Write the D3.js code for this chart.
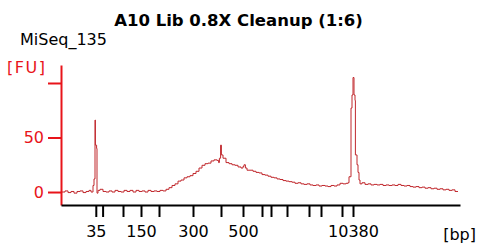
<!DOCTYPE html>
<html>
  <head>
    <meta charset="utf-8">
    <script src="https://d3js.org/d3.v7.min.js"></script>
    <style>
      body { margin: 0; background: #fff; }
      svg { display: block; font-family: 'DejaVu Sans', Verdana, sans-serif; }
    </style>
  </head>
  <body>
    <svg></svg>
    <script type="text/javascript">
      // ladder sizes (bp) and their migration times (s)
      const ladderBp = [35, 50, 100, 150, 200, 300, 400, 500, 600, 700, 1000, 2000, 3000, 7000, 10380]
      const ladderTime = [43.7, 45.4, 50.5, 55, 59.5, 68, 75, 80.5, 85.25, 87.5, 91.5, 97, 100, 105.25, 108]
      const labelledBp = [35, 150, 300, 500, 10380]
      const fuTicks = [0, 50, 100]
      const fuLabels = [0, 50]

      // electropherogram trace: time (s) and fluorescence (FU)
      const traceTime = [
        35.25, 36, 36.75, 37.5, 38.25, 39, 39.75, 40.5, 41.25, 42, 42.5, 43, 43.25, 43.5, 43.6, 43.9,
        44, 44.25, 44.75, 45.5, 46.25, 47, 47.75, 48.5, 49.25, 50, 50.75, 51.5, 52.25, 53, 53.75,
        54.5, 55.25, 56, 56.75, 57.5, 58.25, 59, 59.75, 60.5, 61.25, 62, 62.75, 63.5, 64.25, 65,
        65.75, 66.5, 67.25, 68, 68.75, 69.5, 70.25, 71, 71.75, 72.5, 73.25, 74, 74.4, 74.6, 74.9,
        75.1, 75.5, 76.25, 77, 77.75, 78.5, 79.25, 80, 80.5, 80.75, 81.1, 81.5, 82.25, 83, 83.75,
        84.5, 85.25, 86, 86.75, 87.5, 88.25, 89, 89.75, 90.5, 91.25, 92, 92.75, 93.5, 94.25, 95,
        95.75, 96.5, 97.25, 98, 98.75, 99.5, 100.25, 101, 101.75, 102.5, 103.25, 104, 104.75,
        105.5, 106.25, 106.75, 107, 107.25, 107.5, 107.75, 108, 108.25, 108.5, 108.6, 109, 109.25,
        109.5, 109.75, 110.25, 111, 111.75, 112.5, 113.25, 114, 114.75, 115.5, 116.25, 117,
        117.75, 118.5, 119.25, 120, 120.75, 121.5, 122.25, 123, 123.75, 124.5, 125.25, 126,
        126.75, 127.5, 128.25, 129, 129.75, 130.5, 131.25, 132, 132.75, 133.5, 134.25
      ]
      const traceFU = [
        0, 1, -0.5, 0.5, -1, 0.5, 1, -0.5, 0.5, 1.5, 0, 6, 12, 66, 43, 40,
        -1, 1.5, 2.5, 0.5, 0, 1, 0, 1.5, 0.5, 0, 1.5, 0.5, 1.5, 0, 1.5,
        0.5, 1, 0, 1.5, 0.5, 1, 0.5, 1.5, 1, 2.5, 4, 6, 7.5, 10, 11,
        13, 14, 15, 17, 19, 22, 24.5, 26, 26.5, 28.5, 29.5, 29, 27, 31, 43,
        34, 31, 27, 26, 25, 24.5, 23, 22, 23.5, 25, 22, 20, 20, 19, 18,
        17.5, 16, 15.5, 14.5, 13.5, 13, 12, 11.5, 10.5, 10, 9.5, 9, 8, 8.5, 7.5,
        7, 7.5, 6.5, 6, 6.5, 5.5, 6, 5.5, 5, 6, 5.5, 6.5, 8,
        7.5, 8, 8.5, 14, 14, 77, 89, 105, 89, 84, 34, 25, 18,
        11, 7.5, 8.5, 7, 7.5, 6.5, 7, 6.5, 7, 6, 6.5, 6,
        6.5, 6, 7, 6, 5.5, 6, 5, 4.5, 5, 4, 4.5, 3.5,
        4, 3, 3.5, 2.5, 3, 2, 2.5, 1.5, 2, 0.5, 0.5
      ]

      const width = 479
      const height = 244
      const red = '#e8141a'

      const svg = d3.select('svg')
        .attr('width', width)
        .attr('height', height)

      const x = d3.scaleLinear().domain([35, 134.75]).range([61, 460])
      const y = d3.scaleLinear().domain([-11.9, 116.5]).range([205, 65])

      const data = traceTime.map((t, i) => ({t: t, fu: traceFU[i]}))

      svg.append('path')
        .datum(data)
        .attr('fill', 'none')
        .attr('stroke', '#c0282d')
        .attr('stroke-width', 1)
        .attr('d', d3.line().curve(d3.curveStepAfter).x(d => x(d.t)).y(d => y(d.fu)))

      // y axis (red)
      const yAxis = svg.append('g')
        .attr('transform', 'translate(61,0)')
        .call(d3.axisLeft(y)
          .tickValues(fuTicks)
          .tickSize(13)
          .tickSizeOuter(0)
          .tickPadding(4)
          .tickFormat(d => fuLabels.includes(d) ? d : ''))
      yAxis.selectAll('path, line').attr('stroke', red).attr('stroke-width', 2)
      yAxis.selectAll('text')
        .attr('fill', red)
        .style('font-size', '16px')
        .style('font-family', "'DejaVu Sans', Verdana, sans-serif")

      // x axis (black)
      const xAxis = svg.append('g')
        .attr('transform', 'translate(0,205)')
        .call(d3.axisBottom(x)
          .tickValues(ladderTime)
          .tickSize(12)
          .tickSizeOuter(0)
          .tickPadding(9)
          .tickFormat((d, i) => labelledBp.includes(ladderBp[i]) ? ladderBp[i] : ''))
      xAxis.selectAll('path, line').attr('stroke', '#000').attr('stroke-width', 2)
      xAxis.selectAll('text')
        .attr('fill', '#000')
        .style('font-size', '16px')
        .style('font-family', "'DejaVu Sans', Verdana, sans-serif")

      svg.append('text')
        .attr('x', 238.5)
        .attr('y', 26)
        .attr('text-anchor', 'middle')
        .style('font-weight', 'bold')
        .style('font-size', '16.5px')
        .text('A10 Lib 0.8X Cleanup (1:6)')

      svg.append('text')
        .attr('x', 20)
        .attr('y', 45)
        .style('font-size', '16px')
        .text('MiSeq_135')

      svg.append('text')
        .attr('x', 7)
        .attr('y', 73)
        .attr('fill', red)
        .style('font-size', '16px')
        .style('letter-spacing', '1.5px')
        .text('[FU]')

      svg.append('text')
        .attr('x', 476)
        .attr('y', 240)
        .attr('text-anchor', 'end')
        .style('font-size', '16px')
        .text('[bp]')
    </script>
  </body>
</html>
